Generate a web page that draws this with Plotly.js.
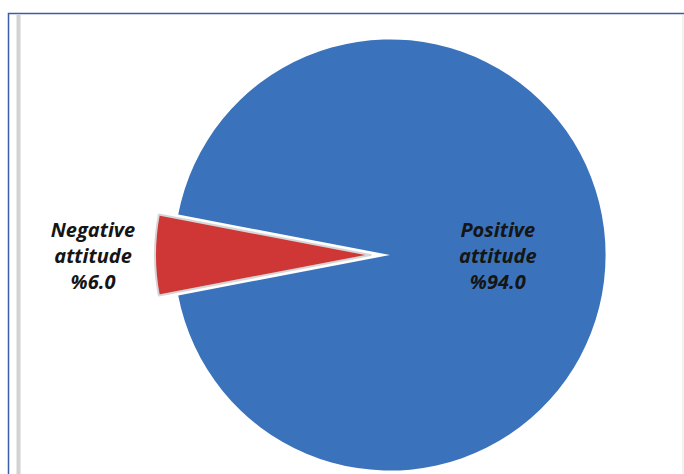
<!DOCTYPE html>
<html>
<head>
<meta charset="utf-8">
<script src="https://cdn.plot.ly/plotly-3.0.1.min.js"></script>
<style>
html,body{margin:0;padding:0;overflow:hidden;background:#fff;}
#chart{width:684px;height:500px;}
</style>
</head>
<body>
<div id="chart"></div>
<script>
const categories = ["Negative<br>attitude", "Positive<br>attitude"];
const percentages = [6.0, 94.0];
const sliceColors = ["#cf3636", "#3a73bb"];

const W = 684, H = 500;
const px = x => x / W;
const py = y => 1 - y / H;

const data = [{
  type: "pie",
  labels: categories,
  values: percentages,
  sort: false,
  direction: "clockwise",
  rotation: 259.2,
  pull: [0.09, 0],
  marker: {colors: sliceColors, line: {color: "#d6d6d6", width: [2, 0]}},
  texttemplate: "%{label}<br>%%{value:.1f}",
  textposition: ["outside", "inside"],
  insidetextorientation: "horizontal",
  textfont: {family: "'Open Sans', Lato, sans-serif", size: 20, color: "#151515", weight: "bold", style: "italic"},
  hoverinfo: "none",
  showlegend: false,
  domain: {x: [px(155), px(625)], y: [py(490), py(20)]}
}];

const layout = {
  width: W, height: H,
  margin: {l: 0, r: 0, t: 0, b: 0},
  paper_bgcolor: "#ffffff",
  showlegend: false,
  shapes: [
    {type: "rect", xref: "paper", yref: "paper", x0: px(8.5), x1: px(700), y0: py(13.5), y1: py(520),
     line: {color: "#3b5ea9", width: 1.5}, fillcolor: "rgba(0,0,0,0)"},
    {type: "line", xref: "paper", yref: "paper", x0: px(18.5), x1: px(18.5), y0: py(15), y1: py(520),
     line: {color: "#d2d2d2", width: 4}},
    {type: "line", xref: "paper", yref: "paper", x0: px(683), x1: px(683), y0: py(15), y1: py(520),
     line: {color: "#e6e6e6", width: 1}}
  ]
};

Plotly.newPlot("chart", data, layout, {displayModeBar: false, staticPlot: true});
</script>
</body>
</html>
